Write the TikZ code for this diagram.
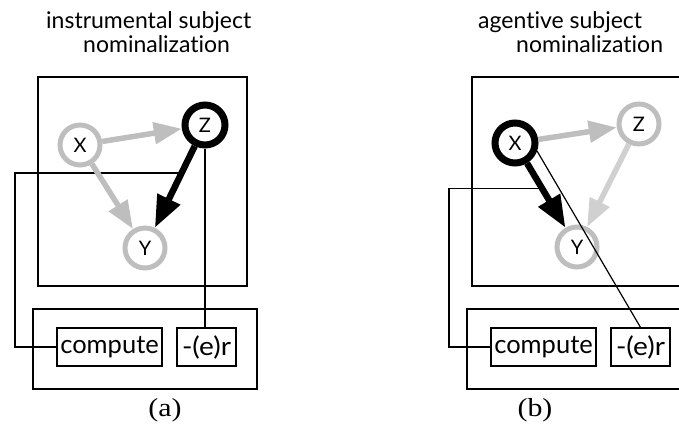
\documentclass[tikz,border=0pt]{standalone}
\usepackage{fontspec}
\setmainfont{Liberation Serif}
\newfontfamily\labelfont[Ligatures=NoCommon]{Lato}
\usetikzlibrary{arrows.meta,calc}
\definecolor{ringgray}{HTML}{BEBEBE}
\definecolor{palegray}{HTML}{D0D0D0}
\begin{document}
\begin{tikzpicture}[x=1pt,y=-1pt,
  var/.style={circle,minimum size=40pt,inner sep=0pt,fill=white,
    font=\labelfont\fontsize{20}{20}\selectfont},
  varon/.style={var,draw=black,line width=7pt},
  varoff/.style={var,draw=ringgray,line width=5pt},
  morph/.style={draw,line width=1.2pt,inner sep=1pt,minimum height=38pt,
    font=\labelfont\fontsize{25.5}{25.5}\selectfont},
  frame/.style={draw,line width=1.5pt},
  link/.style={line width=1.2pt},
  depoff/.style={draw=ringgray,line width=5.5pt,-{Triangle[length=28pt,width=21pt]}},
  deppale/.style={draw=palegray,line width=5.5pt,-{Triangle[length=28pt,width=21pt]}},
  depon/.style={draw=black,line width=6.5pt,-{Triangle[length=32pt,width=24pt]}},
  title/.style={anchor=base west,inner sep=0pt,font=\labelfont\fontsize{23}{23}\selectfont},
  caption/.style={anchor=base,inner sep=0pt,font=\fontsize{26}{26}\selectfont}]
\useasboundingbox (0,0) rectangle (679,429);

% ---------- (a) instrumental subject nominalization ----------
\node[title] (ta1) at (46,28) {instrumental subject};
\node[title] (ta2) at (83,52) {nominalization};
\draw[frame] (38,77) rectangle (247,286);
\draw[frame] (33,309) rectangle (257,389);
\node[varoff] (Xa) at (80,145) {X};
\node[varon]  (Za) at (205,125) {Z};
\node[varoff] (Ya) at (145,248) {Y};
\node[morph,minimum width=105pt] (compA) at (109.5,347) {compute};
\node[morph,minimum width=59pt]  (erA)   at (206.5,347) {\scalebox{1.1}[1]{-(e)r}};
\coordinate (ea) at ($(Za)!0.39!(Ya)$);
\draw[link] (compA.west) -- (15,347) |- (ea);
\draw[link] (Za.south) -- (Za.south |- erA.north);
\draw[depoff] (Xa) -- (Za);
\draw[depoff] (Xa) -- (Ya);
\draw[depon]  (Za) -- (Ya);
\node[caption] (capa) at (165,416) {\scalebox{1.15}[1]{(a)}};

% ---------- (b) agentive subject nominalization ----------
\node[title] (tb1) at (478,28) {agentive subject};
\node[title] (tb2) at (516,52) {nominalization};
\draw[frame] (472,77) rectangle (681,286);
\draw[frame] (467,309) rectangle (691,389);
\node[varon]  (Xb) at (515,143) {X};
\node[varoff] (Zb) at (639,124) {Z};
\node[varoff] (Yb) at (577,247) {Y};
\node[morph,minimum width=105pt] (compB) at (543.5,347) {compute};
\node[morph,minimum width=59pt]  (erB)   at (640.5,347) {\scalebox{1.1}[1]{-(e)r}};
\coordinate (eb) at ($(Xb)!0.44!(Yb)$);
\draw[link] (compB.west) -- (449,347) |- (eb);
\draw[depoff]  (Xb) -- (Zb);
\draw[deppale] (Zb) -- (Yb);
\draw[depon]   (Xb) -- (Yb);
\draw[link] (Xb.-20) -- (erB.north);
\node[caption] (capb) at (535,416) {\scalebox{1.15}[1]{(b)}};
\end{tikzpicture}
\end{document}
